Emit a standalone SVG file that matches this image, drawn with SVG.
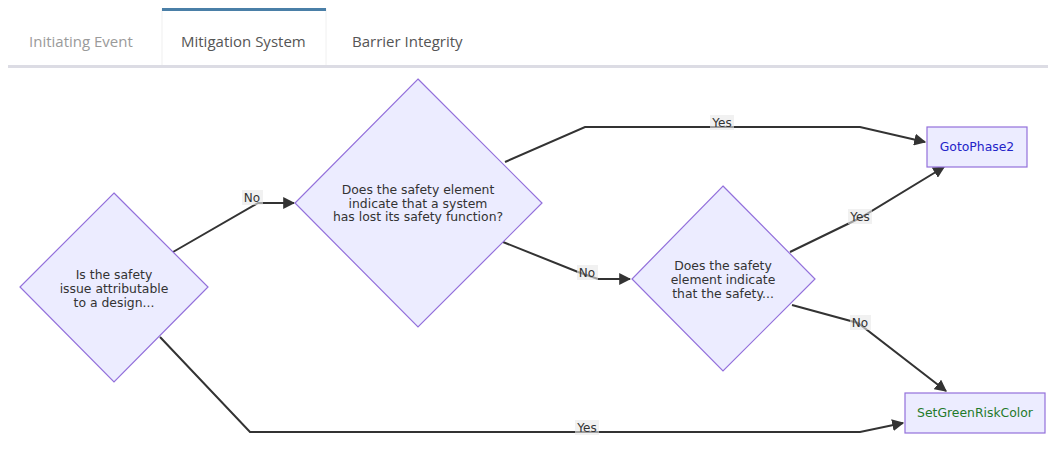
<svg xmlns="http://www.w3.org/2000/svg" width="1048" height="459" viewBox="0 0 1048 459">
<defs>
<style>
.tab{font-family:"Open Sans","Noto Sans",sans-serif;font-size:15px;}
.node{fill:#ECECFF;stroke:#9370DB;stroke-width:1.2;}
.nt{font-family:"DejaVu Sans","Liberation Sans",sans-serif;font-size:12.4px;fill:#333;text-anchor:middle;}
.edge{fill:none;stroke:#333;stroke-width:2;}
.lbg{fill:#e8e8e8;opacity:0.6;}
.lt{font-family:"DejaVu Sans","Liberation Sans",sans-serif;font-size:12px;fill:#333;text-anchor:middle;}
</style>
<marker id="arr" viewBox="0 0 10 10" refX="9" refY="5" markerWidth="6" markerHeight="6" markerUnits="strokeWidth" orient="auto">
<path d="M0,0 L10,5 L0,10 z" fill="#333"/>
</marker>
</defs>
<rect width="1048" height="459" fill="#ffffff"/>
<g id="tabs">
<rect x="162" y="9" width="164" height="57" fill="#ffffff" stroke="#f0f0f0"/>
<rect x="162" y="8" width="164" height="3" fill="#4a7fa7"/>
<rect x="8" y="65" width="1040" height="3" fill="#dcdce4"/>
<text class="tab" x="29" y="47" fill="#9a9a9a">Initiating Event</text>
<text class="tab" x="181" y="47" fill="#555">Mitigation System</text>
<text class="tab" x="352" y="47" fill="#555">Barrier Integrity</text>
</g>
<g id="connectors">
<path class="edge" d="M173,252 L258,203 L294,203" marker-end="url(#arr)"/>
<path class="edge" d="M160,337 L250,432 L860,432 L903,423" marker-end="url(#arr)"/>
<path class="edge" d="M505,162 L585,127 L860,127 L925,142" marker-end="url(#arr)"/>
<path class="edge" d="M503,242 L578,272 L598,279 L630,279" marker-end="url(#arr)"/>
<path class="edge" d="M790,252 L860,218 L944,167" marker-end="url(#arr)"/>
<path class="edge" d="M792,305 L858,323 L946,391" marker-end="url(#arr)"/>
<rect class="lbg" x="242" y="190" width="21" height="15"/>
<text class="lt" x="252" y="202">No</text>
<rect class="lbg" x="575" y="420" width="24" height="15"/>
<text class="lt" x="587" y="432">Yes</text>
<rect class="lbg" x="710" y="115" width="24" height="15"/>
<text class="lt" x="722" y="127">Yes</text>
<rect class="lbg" x="577" y="265" width="21" height="15"/>
<text class="lt" x="587" y="277">No</text>
<rect class="lbg" x="848" y="209" width="24" height="15"/>
<text class="lt" x="860" y="221">Yes</text>
<rect class="lbg" x="850" y="315" width="21" height="15"/>
<text class="lt" x="860" y="327">No</text>
</g>
<g id="node-d1">
<polygon class="node" points="114,193 208,287 114,382 20,287"/>
<text class="nt" x="114" y="279">Is the safety</text>
<text class="nt" x="114" y="293">issue attributable</text>
<text class="nt" x="114" y="307">to a design...</text>
</g>
<g id="node-d2">
<polygon class="node" points="418,79 542,203 418,327 295,203"/>
<text class="nt" x="418" y="194">Does the safety element</text>
<text class="nt" x="418" y="208">indicate that a system</text>
<text class="nt" x="418" y="221">has lost its safety function?</text>
</g>
<g id="node-d3">
<polygon class="node" points="723,186 815,279 723,371 632,279"/>
<text class="nt" x="723" y="270">Does the safety</text>
<text class="nt" x="723" y="284">element indicate</text>
<text class="nt" x="723" y="298">that the safety...</text>
</g>
<g id="node-goto">
<rect class="node" x="927" y="127" width="100" height="40"/>
<text class="nt" x="977" y="151" style="fill:#2323c8">GotoPhase2</text>
</g>
<g id="node-green">
<rect class="node" x="905" y="393" width="140" height="40"/>
<text class="nt" x="975" y="417" style="fill:#1f7a2a">SetGreenRiskColor</text>
</g>
</svg>
